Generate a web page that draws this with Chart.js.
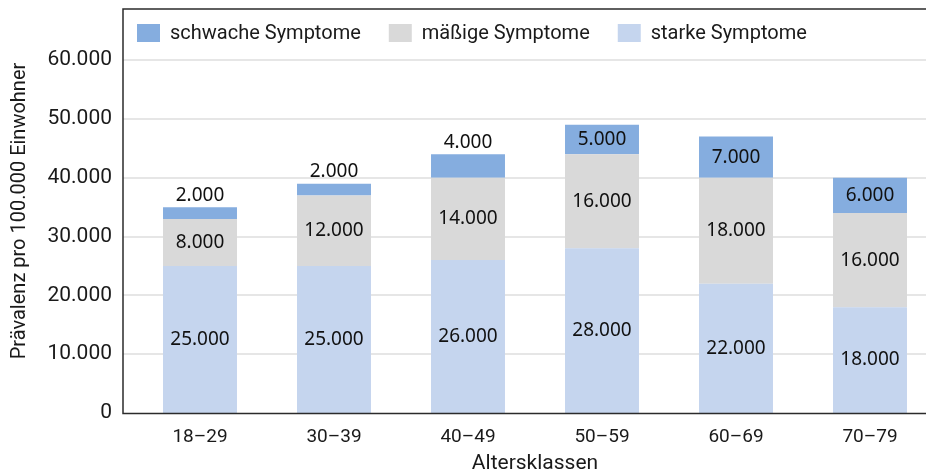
<!DOCTYPE html>
<html>
<head>
<meta charset="utf-8">
<script src="https://cdn.jsdelivr.net/npm/chart.js@4.4.1/dist/chart.umd.min.js"></script>
<style>
  html, body { margin: 0; background: #fff; overflow: hidden; }
  /* the plot area runs a little past the right edge of the picture */
  #wrap { width: 937px; height: 474px; position: relative; }
</style>
</head>
<body>
<div id="wrap"><canvas id="myChart"></canvas></div>
<script>
// data
const ageGroups = ["18–29", "30–39", "40–49", "50–59", "60–69", "70–79"];
const severe = [25000, 25000, 26000, 28000, 22000, 18000];
const moderate = [8000, 12000, 14000, 16000, 18000, 16000];
const mild = [2000, 2000, 4000, 5000, 7000, 6000];
const yTicks = [0, 10000, 20000, 30000, 40000, 50000, 60000];

const axisFont = "Roboto";
const labelFont = "Noto Sans";

function fmt(v) {
  return String(v).replace(/\B(?=(\d{3})+(?!\d))/g, ".");
}

// frame lines, gridlines, legend and value labels
const decorations = {
  id: "decorations",
  beforeDatasetsDraw(chart) {
    const { ctx, chartArea, scales } = chart;
    const left = chartArea.left - 10;
    ctx.save();
    ctx.strokeStyle = "#e6e6e6";
    ctx.lineWidth = 2;
    yTicks.forEach((t) => {
      if (t === 0) return;
      const py = Math.round(scales.y.getPixelForValue(t));
      ctx.beginPath();
      ctx.moveTo(left, py);
      ctx.lineTo(chart.width, py);
      ctx.stroke();
    });
    ctx.restore();
  },
  afterDatasetsDraw(chart) {
    const { ctx, chartArea, scales } = chart;
    const left = chartArea.left - 10;
    const top = chartArea.top;
    const bottom = Math.round(scales.y.getPixelForValue(0)) + 0.5;
    ctx.save();
    ctx.strokeStyle = "#2b2b2b";
    ctx.lineWidth = 1.5;
    ctx.beginPath();
    ctx.moveTo(chart.width, top);
    ctx.lineTo(left, top);
    ctx.lineTo(left, bottom);
    ctx.lineTo(chart.width, bottom);
    ctx.stroke();

    // value labels
    ctx.font = "19px '" + labelFont + "'";
    ctx.fillStyle = "#111";
    ctx.textAlign = "center";
    ctx.textBaseline = "middle";
    chart.data.datasets.forEach((ds, di) => {
      const meta = chart.getDatasetMeta(di);
      meta.data.forEach((bar, i) => {
        const v = ds.data[i];
        let y = (bar.y + bar.base) / 2;
        if (v < 5000) y = bar.y - 12;
        ctx.fillText(fmt(v), bar.x, y);
      });
    });

    // legend, in the order mild / moderate / severe
    ctx.font = "20px '" + axisFont + "'";
    ctx.textAlign = "left";
    let x = chartArea.left + 4;
    const ly = top + 24;
    chart.data.datasets.slice().reverse().forEach((ds) => {
      ctx.fillStyle = ds.backgroundColor;
      ctx.fillRect(x, ly - 9, 23, 18);
      ctx.fillStyle = "#1a1a1a";
      ctx.fillText(ds.label, x + 33, ly + 1);
      x += 33 + ctx.measureText(ds.label).width + 28;
    });
    ctx.restore();
  },
};

const ctx = document.getElementById("myChart");
new Chart(ctx, {
  type: "bar",
  data: {
    labels: ageGroups,
    datasets: [
      { label: "starke Symptome", data: severe, backgroundColor: "#c5d5ee" },
      { label: "mäßige Symptome", data: moderate, backgroundColor: "#d9d9d9" },
      { label: "schwache Symptome", data: mild, backgroundColor: "#85addf" },
    ],
  },
  options: {
    responsive: true,
    maintainAspectRatio: false,
    animation: false,
    layout: { padding: { top: 9, left: 0, right: 0, bottom: 0 } },
    datasets: {
      bar: { barPercentage: 0.552, categoryPercentage: 1 },
    },
    plugins: {
      legend: { display: false },
      tooltip: { enabled: false },
    },
    scales: {
      x: {
        stacked: true,
        grid: { display: false, drawTicks: false },
        border: { display: false },
        ticks: { color: "#1a1a1a", font: { family: axisFont, size: 19 }, padding: 13 },
        title: {
          display: true,
          text: "Altersklassen",
          color: "#1a1a1a",
          font: { family: axisFont, size: 21 },
          padding: { top: 0, bottom: -2 },
        },
        afterFit: (scale) => {
          scale.height = 61;
          scale.paddingLeft = 0;
          scale.paddingRight = 0;
        },
      },
      y: {
        stacked: true,
        min: 0,
        max: 68700,
        afterBuildTicks: (scale) => {
          scale.ticks = yTicks.map((v) => ({ value: v }));
        },
        grid: { display: false, drawTicks: false },
        border: { display: false },
        ticks: {
          color: "#1a1a1a",
          font: { family: axisFont, size: 21 },
          padding: 21,
          callback: (v) => fmt(v),
        },
        title: {
          display: true,
          text: "Prävalenz pro 100.000 Einwohner",
          color: "#1a1a1a",
          font: { family: axisFont, size: 20 },
          padding: { top: 8, bottom: 0 },
        },
        afterFit: (scale) => {
          scale.width = 133;
          scale.paddingTop = 0;
          scale.paddingBottom = 0;
        },
      },
    },
  },
  plugins: [decorations],
});
</script>
</body>
</html>
